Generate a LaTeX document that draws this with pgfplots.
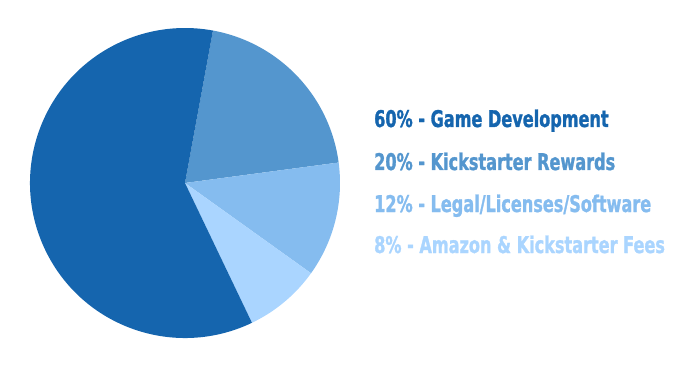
\documentclass[border=0pt]{standalone}
\usepackage{pgfplots}
\usepackage{pgfplotstable}
\pgfplotsset{compat=1.18}
\usepackage{fontspec}
\newfontfamily\lab{DejaVu Sans}[FakeStretch=0.70, FakeBold=1.2]
\definecolor{c1}{HTML}{1565AE}
\definecolor{c2}{HTML}{5496CE}
\definecolor{c3}{HTML}{85BCEF}
\definecolor{c4}{HTML}{AAD5FF}
\pgfplotstableread{
pct label
20 {Kickstarter Rewards}
12 {Legal/Licenses/Software}
8 {Amazon \& Kickstarter Fees}
60 {Game Development}
}\piedata
\pgfplotstablegetelem{0}{pct}\of\piedata \edef\pa{\pgfplotsretval}
\pgfplotstablegetelem{1}{pct}\of\piedata \edef\pb{\pgfplotsretval}
\pgfplotstablegetelem{2}{pct}\of\piedata \edef\pc{\pgfplotsretval}
\pgfplotstablegetelem{3}{pct}\of\piedata \edef\pd{\pgfplotsretval}
\pgfmathsetmacro\sa{79.6}
\pgfmathsetmacro\da{-3.6*\pa}
\pgfmathsetmacro\sb{\sa+\da}
\pgfmathsetmacro\db{-3.6*\pb}
\pgfmathsetmacro\sc{\sb+\db}
\pgfmathsetmacro\dc{-3.6*\pc}
\pgfmathsetmacro\sd{\sc+\dc}
\pgfmathsetmacro\dd{-3.6*\pd}
\begin{document}
\begin{tikzpicture}
\begin{axis}[
  width=700pt, height=375pt, scale only axis,
  xmin=0, xmax=700, ymin=0, ymax=375,
  hide axis, clip=false,
]
\addplot[draw=none, forget plot] coordinates {(0,0) (700,375)};
\fill[c2] (axis cs:185,192) -- ++(\sa:155pt) arc[start angle=\sa, delta angle=\da, radius=155pt] -- cycle;
\fill[c3] (axis cs:185,192) -- ++(\sb:155pt) arc[start angle=\sb, delta angle=\db, radius=155pt] -- cycle;
\fill[c4] (axis cs:185,192) -- ++(\sc:155pt) arc[start angle=\sc, delta angle=\dc, radius=155pt] -- cycle;
\fill[c1] (axis cs:185,192) -- ++(\sd:155pt) arc[start angle=\sd, delta angle=\dd, radius=155pt] -- cycle;
\tikzset{lbl/.style={anchor=base west, inner sep=0pt, font=\lab\bfseries\fontsize{23}{27}\selectfont}}
\node[lbl, text=c1] at (axis cs:374,248) {60\% - Game Development};
\node[lbl, text=c2] at (axis cs:374,205) {20\% - Kickstarter Rewards};
\node[lbl, text=c3] at (axis cs:374,163) {12\% - Legal/Licenses/Software};
\node[lbl, text=c4] at (axis cs:374,122) {8\% - Amazon \& Kickstarter Fees};
\end{axis}
\end{tikzpicture}
\end{document}
